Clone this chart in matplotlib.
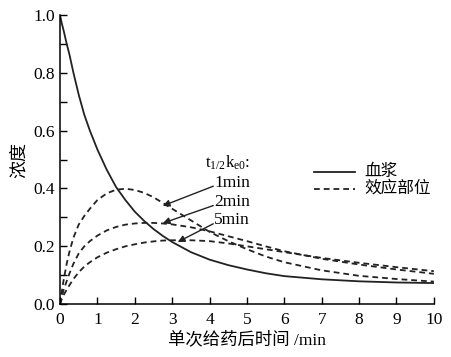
import matplotlib.pyplot as plt
import numpy as np

plt.rcParams['font.family'] = ['Liberation Serif', 'Noto Sans CJK SC']
plt.rcParams['mathtext.fontset'] = 'stix'

# time (min)
t = [0, 0.05, 0.1, 0.18, 0.25, 0.36, 0.5, 0.65, 0.8, 1.0, 1.25, 1.5, 1.75,
     2.0, 2.25, 2.5, 2.75, 3.0, 3.5, 4.0, 4.5, 5.0, 5.5, 6.0, 7.0, 8.0,
     9.0, 10.0]

plasma = [1.0, 0.97, 0.945, 0.9, 0.865, 0.8, 0.725, 0.655, 0.6, 0.535, 0.465,
          0.405, 0.36, 0.32, 0.288, 0.26, 0.236, 0.215, 0.18, 0.154, 0.135,
          0.12, 0.107, 0.097, 0.086, 0.079, 0.075, 0.073]
effect_1min = [0, 0.045, 0.085, 0.14, 0.18, 0.23, 0.275, 0.305, 0.33, 0.36,
               0.383, 0.396, 0.399, 0.395, 0.385, 0.37, 0.35, 0.33, 0.29,
               0.25, 0.218, 0.19, 0.165, 0.145, 0.117, 0.098, 0.087, 0.078]
effect_2min = [0, 0.028, 0.05, 0.08, 0.105, 0.14, 0.175, 0.2, 0.218, 0.237,
               0.255, 0.267, 0.275, 0.279, 0.281, 0.281, 0.279, 0.276, 0.266,
               0.252, 0.235, 0.218, 0.2, 0.183, 0.157, 0.137, 0.12, 0.105]
effect_5min = [0, 0.018, 0.032, 0.05, 0.065, 0.087, 0.11, 0.13, 0.145, 0.162,
               0.178, 0.19, 0.2, 0.207, 0.213, 0.217, 0.22, 0.221, 0.221,
               0.218, 0.21, 0.2, 0.19, 0.18, 0.16, 0.143, 0.128, 0.114]

fig = plt.figure(figsize=(4.51, 3.57), dpi=100)
ax = fig.add_axes([0.133, 0.148, 0.829, 0.81])

dash = (0, (3.2, 2.2))
ax.plot(t, plasma, color='#222222', lw=1.3)
for ys in (effect_1min, effect_2min, effect_5min):
    ax.plot(t, ys, color='#222222', lw=1.3, linestyle=dash)

ax.set_xlim(0, 10)
ax.set_ylim(0, 1.0)
ax.set_xticks(np.arange(0, 11, 1))
ax.set_yticks(np.arange(0, 1.01, 0.2))
ax.set_yticks(np.arange(0, 1.01, 0.1), minor=True)
ax.set_yticklabels(['0.0', '0.2', '0.4', '0.6', '0.8', '1.0'])
ax.tick_params(direction='in', length=5, width=1, labelsize=12.5)
ax.tick_params(axis='x', pad=6)
ax.tick_params(which='minor', direction='in', length=5, width=1)
for s in ('top', 'right'):
    ax.spines[s].set_visible(False)
for s in ('left', 'bottom'):
    ax.spines[s].set_linewidth(1.1)

ax.set_xlabel('单次给药后时间 /min', fontsize=12.5, labelpad=2)
ax.set_ylabel('浓度', fontsize=13, labelpad=4)

# legend drawn by hand
ax.plot([6.8, 7.9], [0.457, 0.457], color='#222222', lw=1.3)
ax.plot([6.8, 7.9], [0.398, 0.398], color='#222222', lw=1.3, linestyle=dash)
ax.text(8.15, 0.457, '血浆', fontsize=12, va='center')
ax.text(8.15, 0.398, '效应部位', fontsize=12, va='center')

ax.text(5.08, 0.49, r'$\mathregular{t_{1/2}k_{e0}}$:', fontsize=12, ha='right', va='center')
labels = ['1min', '2min', '5min']
label_y = [0.42, 0.353, 0.29]
tips = [(2.75, 0.34), (2.75, 0.28), (3.15, 0.215)]
for lab, ly, tip in zip(labels, label_y, tips):
    ax.text(5.08, ly, lab, fontsize=12.5, ha='right', va='center')
    ax.annotate('', xy=tip, xytext=(4.1, ly - 0.012),
                arrowprops=dict(arrowstyle='-|>', color='#222222', lw=1,
                                mutation_scale=10, shrinkA=0, shrinkB=0))

fig.savefig('out.png', dpi=100)
